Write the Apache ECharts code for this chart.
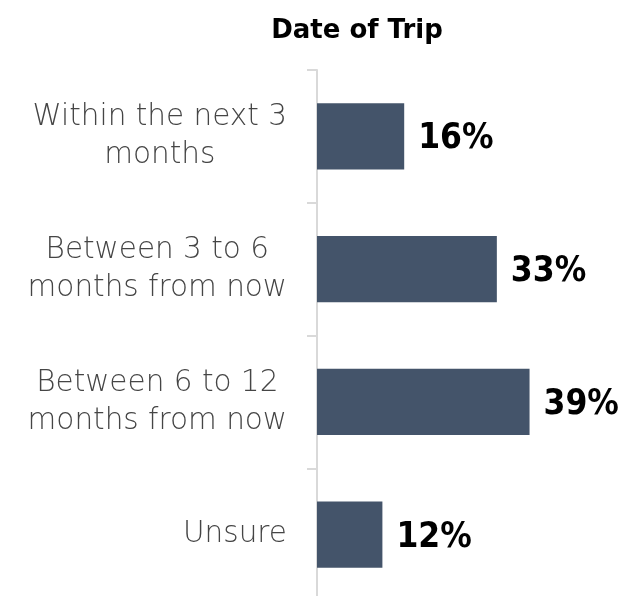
<!DOCTYPE html>
<html>
<head>
<meta charset="utf-8">
<script src="https://cdn.jsdelivr.net/npm/echarts@6/dist/echarts.min.js"></script>
<style>
  html, body { margin: 0; padding: 0; background: #fff; }
  #chart { width: 626px; height: 596px; }
</style>
</head>
<body>
<div id="chart"></div>
<script>
  // data
  const categories = ['Within the next 3\nmonths', 'Between 3 to 6\nmonths from now', 'Between 6 to 12\nmonths from now', 'Unsure']
  const shares = [16, 33, 39, 12]

  let chart = echarts.init(document.getElementById('chart'))
  let option = {
    title: {
      text: 'Date of Trip',
      left: 352,
      textAlign: 'center',
      top: 13,
      textStyle: {
        fontFamily: 'DejaVu Sans',
        fontSize: 26,
        fontWeight: 'bold',
        color: '#000'
      }
    },
    grid: {
      left: 317,
      top: 70,
      width: 272.5,
      height: 531,
      outerBoundsMode: 'none',
      containLabel: false
    },
    xAxis: {
      type: 'value',
      min: 0,
      max: 50,
      show: false
    },
    yAxis: {
      type: 'category',
      inverse: true,
      data: categories,
      axisLine: { show: true, lineStyle: { color: '#d9d9d9', width: 2 } },
      axisTick: { show: true, length: 10, lineStyle: { color: '#d9d9d9', width: 2 } },
      axisLabel: {
        margin: 30,
        align: 'right',
        // each line centred inside the right-aligned block
        formatter: (v) => v.split('\n').map(s => '{c|' + s + '}').join('\n'),
        rich: {
          c: {
            align: 'center',
            fontFamily: 'DejaVu Sans',
            fontWeight: 200,
            fontSize: 29.5,
            lineHeight: 38,
            color: '#454545'
          }
        }
      }
    },
    series: [
      {
        type: 'bar',
        data: shares,
        barWidth: '50%',
        itemStyle: { color: '#44546a' },
        label: {
          show: true,
          position: 'right',
          distance: 14,
          offset: [0, 3],
          formatter: '{c}%',
          fontFamily: 'DejaVu Sans Condensed',
          fontSize: 35,
          fontWeight: 'bold',
          color: '#000'
        }
      }
    ]
  }
  chart.setOption(option)
</script>
</body>
</html>
